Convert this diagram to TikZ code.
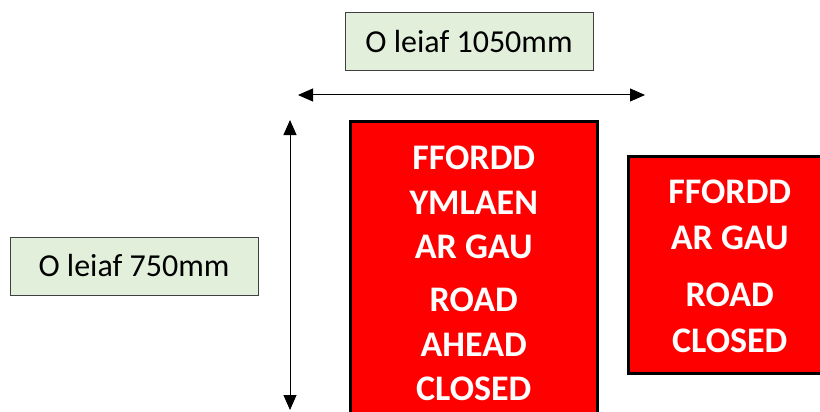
\documentclass[tikz,border=0pt]{standalone}
\usepackage{fontspec}
\setmainfont{Carlito}
\usetikzlibrary{arrows.meta, positioning}
\definecolor{labelgreen}{RGB}{226,239,218}

\begin{document}
\begin{tikzpicture}[
  x=1pt, y=-1pt,
  every node/.style={font=\fontsize{32}{36}\selectfont},
  sizebox/.style={draw=black!75, line width=0.8pt, fill=labelgreen, minimum width=248pt, minimum height=58pt, inner sep=0pt},
  sign/.style={draw=black, line width=2.5pt, fill=red, inner sep=0pt},
  signtext/.style={text=white, align=center, inner sep=0pt},
  arrow/.style={{Triangle[length=15pt,width=13pt]}-{Triangle[length=15pt,width=13pt]}, line width=1pt}
]
\useasboundingbox (0,0) rectangle (820,412);
\clip (0,0) rectangle (820,412);

% Size labels
\node[sizebox] (widthlabel) at (469,41.5) {O leiaf 1050mm};
\node[sizebox] (heightlabel) at (134,266) {O leiaf 750mm};

% Signs
\node[sign, minimum width=247pt, minimum height=305pt, anchor=north west] (mainsign) at (349,120) {};
\node[sign, minimum width=203pt, minimum height=217pt, anchor=north west] (sidesign) at (627,155) {};

\node[signtext, font=\fontsize{36}{44.5}\selectfont\bfseries] (maintext) at (mainsign.center)
  {FFORDD\\YMLAEN\\AR GAU\\[8.5pt]ROAD\\AHEAD\\CLOSED};
\node[signtext, font=\fontsize{36}{46}\selectfont\bfseries] (sidetext) at ([yshift=-1.5pt]sidesign.center)
  {FFORDD\\AR GAU\\[11pt]ROAD\\CLOSED};

% Dimension arrows
\coordinate (wl) at (298,95);
\coordinate (wr) at (645,95);
\coordinate (ht) at (290,120);
\coordinate (hb) at (290,410);
\draw[arrow] (wl) -- (wr);
\draw[arrow] (ht) -- (hb);

\end{tikzpicture}
\end{document}
